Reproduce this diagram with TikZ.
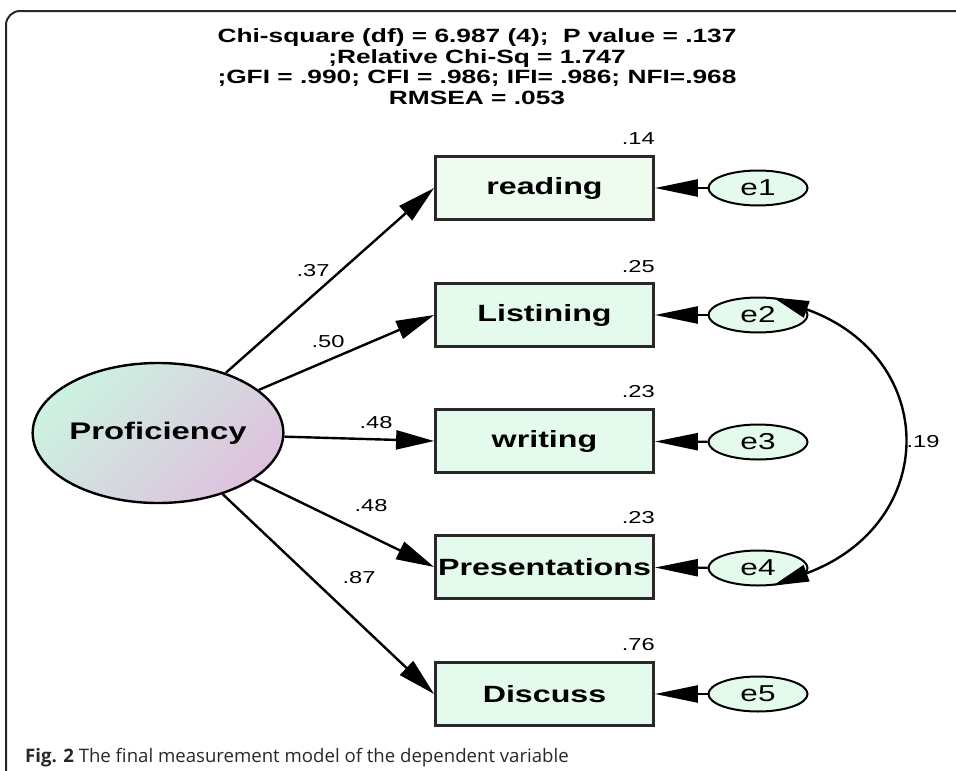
\documentclass[tikz,border=0pt]{standalone}
\usepackage{fontspec}
\setmainfont{Liberation Sans}
% Arial-like face, widened to the diagram's aspect
\newfontfamily\diagfont[FakeStretch=1.37]{Liberation Sans}
\newfontfamily\capfont{Open Sans}
\usetikzlibrary{arrows.meta,shapes.geometric,shadings}

\definecolor{boxfill}{RGB}{228,250,236}
\definecolor{readfill}{RGB}{238,252,240}
\definecolor{edgegray}{RGB}{40,40,40}
\definecolor{latgreen}{RGB}{204,242,224}
\definecolor{latmauve}{RGB}{222,194,222}
\definecolor{framegray}{RGB}{40,40,40}
\definecolor{captext}{RGB}{40,40,40}

\tikzset{
  obs/.style={rectangle, draw=edgegray, line width=2.8pt, fill=boxfill,
    minimum width=218pt, minimum height=63pt, inner sep=0pt,
    font=\diagfont\bfseries\fontsize{23.5}{26}\selectfont},
  err/.style={ellipse, draw=black, line width=2pt, fill=boxfill,
    minimum width=99pt, minimum height=35pt, inner sep=0pt,
    font=\diagfont\fontsize{23}{26}\selectfont},
  latent/.style={ellipse, draw=black, line width=2.4pt,
    top color=latgreen, bottom color=latmauve, shading angle=45,
    minimum width=240pt, minimum height=140pt, inner sep=0pt,
    font=\diagfont\bfseries\fontsize{24}{27}\selectfont},
  load/.style={-{Triangle[length=38pt,width=19pt]}, line width=2.4pt},
  errpath/.style={-{Triangle[length=43pt,width=17pt]}, line width=2.4pt},
  cov/.style={{Triangle[length=36pt,width=17pt]}-{Triangle[length=36pt,width=17pt]}, line width=2.4pt},
  coef/.style={font=\diagfont\fontsize{17.3}{20}\selectfont, inner sep=0pt},
  rsq/.style={coef, anchor=base east},
  hdr/.style={font=\diagfont\bfseries\fontsize{19.2}{21}\selectfont, anchor=base, inner sep=0pt},
}

\begin{document}
\begin{tikzpicture}[x=1pt, y=-1pt]
\useasboundingbox (0,0) rectangle (956,771);

% frame
\draw[framegray, line width=2pt, rounded corners=14pt] (6,771) -- (6,11) -- (960,11);

% fit statistics
\node[hdr] (h1) at (477,42.5) {Chi-square (df) = 6.987 (4);~ P value = .137};
\node[hdr] (h2) at (477,63) {;Relative Chi-Sq = 1.747};
\node[hdr] (h3) at (477,83.5) {;GFI = .990; CFI = .986; IFI= .986; NFI=.968};
\node[hdr] (h4) at (477,104) {RMSEA = .053};

% latent variable
\node[latent] (prof) at (158,433) {Proficiency};

% observed indicators
\node[obs, fill=readfill] (read) at (544.5,188) {reading};
\node[obs] (list) at (544.5,315) {Listining};
\node[obs] (writ) at (544.5,441) {writing};
\node[obs] (pres) at (544.5,567) {Presentations};
\node[obs] (disc) at (544.5,694) {Discuss};

% error terms
\node[err] (e1) at (758,188) {e1};
\node[err] (e2) at (758,315) {e2};
\node[err] (e3) at (758,442) {e3};
\node[err] (e4) at (758,568) {e4};
\node[err] (e5) at (758,694) {e5};

% squared multiple correlations
\node[rsq] (r1) at (655,144) {.14};
\node[rsq] (r2) at (655,272) {.25};
\node[rsq] (r3) at (655,397) {.23};
\node[rsq] (r4) at (655,523) {.23};
\node[rsq] (r5) at (655,650) {.76};

% factor loadings
\draw[load] (prof) -- (read.west);
\draw[load] (prof) -- (list.west);
\draw[load] (prof) -- (writ.west);
\draw[load] (prof) -- (pres.west);
\draw[load] (prof) -- (disc.west);

\node[coef] (l1) at (313,271) {.37};
\node[coef] (l2) at (328,342) {.50};
\node[coef] (l3) at (376,423) {.48};
\node[coef] (l4) at (371,506) {.48};
\node[coef] (l5) at (359,578) {.87};

% error paths
\draw[errpath] (e1) -- (read);
\draw[errpath] (e2) -- (list);
\draw[errpath] (e3) -- (writ);
\draw[errpath] (e4) -- (pres);
\draw[errpath] (e5) -- (disc);

% error covariance
\draw[cov] (e4.-50) .. controls (940,524) and (940,357) .. (e2.50);
\node[coef] (c24) at (923,442) {.19};

% caption
\node[anchor=base west, inner sep=0pt, text=captext,
  font=\capfont\fontsize{18.6}{21}\selectfont] (cap) at (25,762)
  {\textbf{Fig. 2} The final measurement model of the dependent variable};
\end{tikzpicture}
\end{document}
